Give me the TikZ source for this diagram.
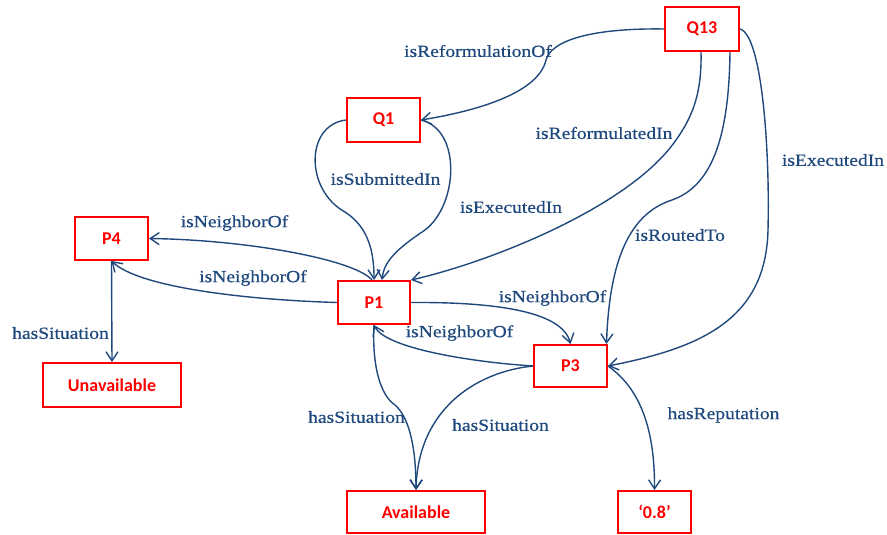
\documentclass[tikz,border=0pt]{standalone}
\usepackage{fontspec}
\usetikzlibrary{arrows.meta}
\newfontfamily\lblfont[FakeStretch=1.15,FakeBold=0.6]{Liberation Serif}
\newfontfamily\boxfont{Carlito}
\definecolor{edgeblue}{RGB}{31,73,125}
\definecolor{boxred}{RGB}{255,0,0}
\tikzset{
  box/.style={draw=boxred, line width=2.4pt, text=boxred, font=\boxfont\bfseries\fontsize{18}{18}\selectfont, inner sep=0pt},
  rel/.style={draw=edgeblue, line width=1.4pt, -{Straight Barb[length=9pt,width=12pt,line width=1.4pt]}},
  lbl/.style={text=edgeblue, font=\lblfont\fontsize{17}{17}\selectfont, inner sep=0pt},
}
\begin{document}
\begin{tikzpicture}[x=1pt,y=-1pt]
\path[use as bounding box] (0,0) rectangle (887,535);
% nodes
\node[box, minimum width=73.6pt, minimum height=43.6pt] (Q13) at (702,29) {Q13};
\node[box, minimum width=72.6pt, minimum height=43.6pt] (Q1) at (383.5,120) {Q1};
\node[box, minimum width=72.6pt, minimum height=42.6pt] (P4) at (111.5,238.5) {P4};
\node[box, minimum width=71.6pt, minimum height=42.6pt] (P1) at (374,302.5) {P1};
\node[box, minimum width=72.6pt, minimum height=41.6pt] (P3) at (570.5,366) {P3};
\node[box, minimum width=137.6pt, minimum height=43.6pt] (Unav) at (112,385) {Unavailable};
\node[box, minimum width=137.6pt, minimum height=41.6pt] (Av) at (416,512) {Available};
\node[box, minimum width=72.6pt, minimum height=41.6pt] (v08) at (654.5,512) {‘0.8’};
% edges
\draw[rel] (Q13.west) .. controls (600,28) and (552,38) .. (546,60) .. controls (538,95) and (470,112) .. (Q1.east);
\draw[rel] (Q1.west) .. controls (305,125) and (305,190) .. (345,212) .. controls (370,228) and (374,255) .. (P1.north);
\draw[rel] (Q1.east) .. controls (462,130) and (458,205) .. (425,230) .. controls (395,250) and (384,262) .. ([xshift=8pt]P1.north);
\draw[rel] ([xshift=-1pt]Q13.south) .. controls (702,95) and (692,120) .. (670,148) .. controls (620,210) and (490,262) .. (P1.north east);
\draw[rel] ([xshift=28pt]Q13.south) .. controls (729,130) and (715,185) .. (672,200) .. controls (625,215) and (609,270) .. ([xshift=36pt]P3.north);
\draw[rel] (Q13.east) .. controls (762,35) and (770,150) .. (768,230) .. controls (766,320) and (700,348) .. (P3.east);
\draw[rel] ([xshift=-2pt]P1.north) .. controls (355,260) and (250,240) .. (P4.east);
\draw[rel] (P1.west) .. controls (250,300) and (140,288) .. (P4.south);
\draw[rel] (P1.east) .. controls (490,302) and (562,310) .. (P3.north);
\draw[rel] (P3.west) .. controls (470,362) and (385,348) .. (P1.south);
\draw[rel] (P1.south) .. controls (372,365) and (380,395) .. (395,405) .. controls (410,418) and (416,450) .. (Av.north);
\draw[rel] (P3.west) .. controls (475,372) and (418,410) .. (Av.north);
\draw[rel] (P3.east) .. controls (635,385) and (655,420) .. (v08.north);
\draw[rel] (P4.south) -- (Unav.north);
% labels
\node[lbl] (l1) at (478,51) {isReformulationOf};
\node[lbl] (l2) at (385.5,179) {isSubmittedIn};
\node[lbl] (l3) at (511,207) {isExecutedIn};
\node[lbl] (l4) at (604,133) {isReformulatedIn};
\node[lbl] (l5) at (680,235) {isRoutedTo};
\node[lbl] (l6) at (833,160) {isExecutedIn};
\node[lbl] (l7) at (234.5,223) {isNeighborOf};
\node[lbl] (l8) at (253,278) {isNeighborOf};
\node[lbl] (l9) at (552.5,298) {isNeighborOf};
\node[lbl] (l10) at (459.5,333) {isNeighborOf};
\node[lbl] (l11) at (60.5,333) {hasSituation};
\node[lbl] (l12) at (356.5,417) {hasSituation};
\node[lbl] (l13) at (500.5,425) {hasSituation};
\node[lbl] (l14) at (723.5,415) {hasReputation};
\end{tikzpicture}
\end{document}
